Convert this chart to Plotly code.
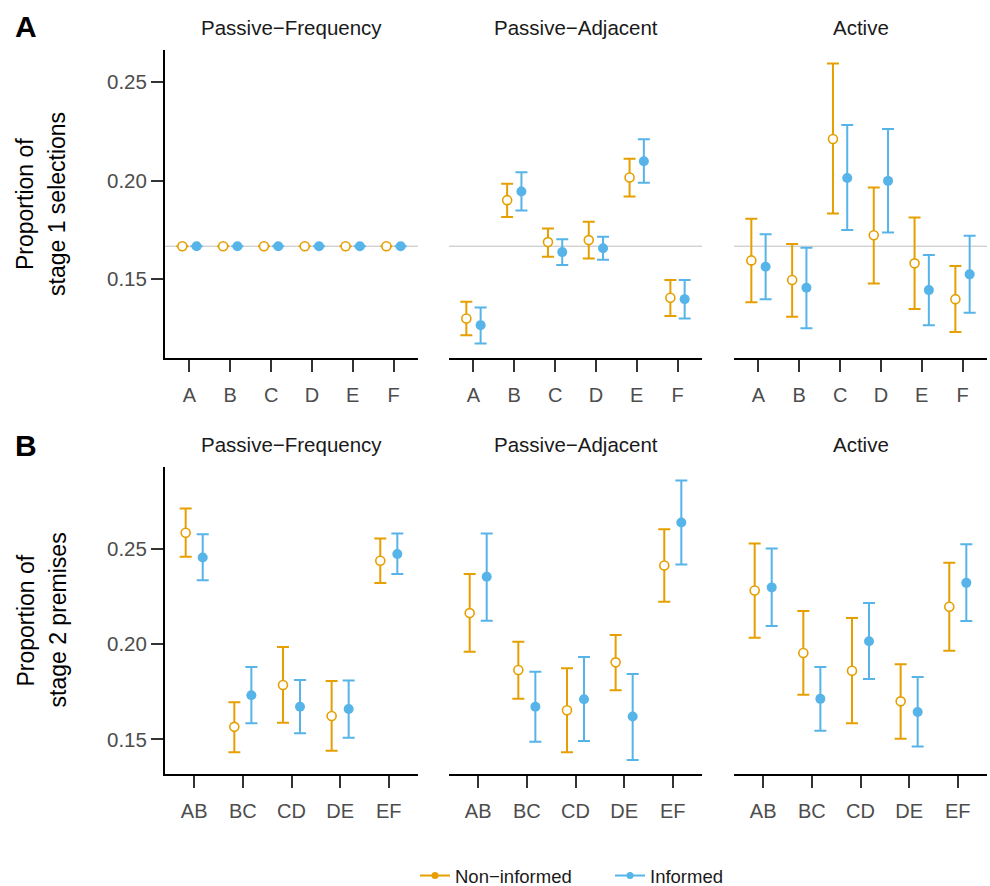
import plotly.graph_objects as go

# ---------------- data ----------------
conditions = ["Passive−Frequency", "Passive−Adjacent", "Active"]
stage1_options = ["A", "B", "C", "D", "E", "F"]
stage2_premises = ["AB", "BC", "CD", "DE", "EF"]
group_names = ["Non−informed", "Informed"]
stage1_chance = 0.1667

# Row A: proportion of stage 1 selections (mean, lower CI, upper CI)
s1_freq_non = [0.1667, 0.1667, 0.1667, 0.1667, 0.1667, 0.1667]
s1_freq_non_lo = [0.1667, 0.1667, 0.1667, 0.1667, 0.1667, 0.1667]
s1_freq_non_hi = [0.1667, 0.1667, 0.1667, 0.1667, 0.1667, 0.1667]
s1_freq_inf = [0.1667, 0.1667, 0.1667, 0.1667, 0.1667, 0.1667]
s1_freq_inf_lo = [0.1667, 0.1667, 0.1667, 0.1667, 0.1667, 0.1667]
s1_freq_inf_hi = [0.1667, 0.1667, 0.1667, 0.1667, 0.1667, 0.1667]

s1_adj_non = [0.1300, 0.1901, 0.1688, 0.1698, 0.2016, 0.1405]
s1_adj_non_lo = [0.1214, 0.1815, 0.1613, 0.1605, 0.1920, 0.1312]
s1_adj_non_hi = [0.1385, 0.1984, 0.1757, 0.1791, 0.2111, 0.1495]
s1_adj_inf = [0.1266, 0.1945, 0.1637, 0.1657, 0.2099, 0.1398]
s1_adj_inf_lo = [0.1173, 0.1849, 0.1571, 0.1598, 0.1989, 0.1300]
s1_adj_inf_hi = [0.1356, 0.2043, 0.1703, 0.1715, 0.2211, 0.1495]

s1_act_non = [0.1595, 0.1495, 0.2212, 0.1723, 0.1580, 0.1398]
s1_act_non_lo = [0.1382, 0.1309, 0.1833, 0.1478, 0.1348, 0.1231]
s1_act_non_hi = [0.1806, 0.1678, 0.2595, 0.1965, 0.1813, 0.1566]
s1_act_inf = [0.1563, 0.1456, 0.2014, 0.1999, 0.1444, 0.1524]
s1_act_inf_lo = [0.1398, 0.1250, 0.1749, 0.1737, 0.1266, 0.1329]
s1_act_inf_hi = [0.1728, 0.1659, 0.2283, 0.2263, 0.1622, 0.1720]

# Row B: proportion of stage 2 premises
s2_freq_non = [0.2586, 0.1566, 0.1786, 0.1623, 0.2439]
s2_freq_non_lo = [0.2460, 0.1433, 0.1587, 0.1440, 0.2322]
s2_freq_non_hi = [0.2714, 0.1695, 0.1986, 0.1807, 0.2556]
s2_freq_inf = [0.2456, 0.1732, 0.1672, 0.1660, 0.2475]
s2_freq_inf_lo = [0.2337, 0.1585, 0.1532, 0.1509, 0.2369]
s2_freq_inf_hi = [0.2579, 0.1881, 0.1812, 0.1809, 0.2582]

s2_adj_non = [0.2164, 0.1865, 0.1653, 0.1905, 0.2414]
s2_adj_non_lo = [0.1961, 0.1714, 0.1433, 0.1758, 0.2223]
s2_adj_non_hi = [0.2369, 0.2013, 0.1874, 0.2049, 0.2605]
s2_adj_inf = [0.2355, 0.1672, 0.1711, 0.1620, 0.2640]
s2_adj_inf_lo = [0.2124, 0.1488, 0.1492, 0.1392, 0.2419]
s2_adj_inf_hi = [0.2582, 0.1856, 0.1933, 0.1844, 0.2861]

s2_act_non = [0.2283, 0.1954, 0.1861, 0.1700, 0.2197]
s2_act_non_lo = [0.2034, 0.1734, 0.1585, 0.1503, 0.1966]
s2_act_non_hi = [0.2530, 0.2175, 0.2138, 0.1895, 0.2428]
s2_act_inf = [0.2299, 0.1713, 0.2016, 0.1644, 0.2323]
s2_act_inf_lo = [0.2096, 0.1545, 0.1818, 0.1462, 0.2122]
s2_act_inf_hi = [0.2504, 0.1881, 0.2217, 0.1828, 0.2526]

y_ticks = [0.15, 0.20, 0.25]
y_tick_labels = ["0.15", "0.20", "0.25"]

# ---------------- styling ----------------
W, H = 990, 886
ORANGE = "#E69F00"
BLUE = "#56B4E9"
FONT = "Liberation Sans, Arial, Helvetica, sans-serif"
DODGE = 0.175

col_px = [(165, 418), (449, 702), (734, 987)]
row_px = [(50, 358), (467, 774)]
row_ranges = [[0.1099, 0.2664], [0.1318, 0.2932]]


def xdom(c):
    return [col_px[c][0] / W, col_px[c][1] / W]


def ydom(r):
    return [1 - row_px[r][1] / H, 1 - row_px[r][0] / H]


rows = [
    (stage1_options, [
        ((s1_freq_non, s1_freq_non_lo, s1_freq_non_hi), (s1_freq_inf, s1_freq_inf_lo, s1_freq_inf_hi)),
        ((s1_adj_non, s1_adj_non_lo, s1_adj_non_hi), (s1_adj_inf, s1_adj_inf_lo, s1_adj_inf_hi)),
        ((s1_act_non, s1_act_non_lo, s1_act_non_hi), (s1_act_inf, s1_act_inf_lo, s1_act_inf_hi)),
    ]),
    (stage2_premises, [
        ((s2_freq_non, s2_freq_non_lo, s2_freq_non_hi), (s2_freq_inf, s2_freq_inf_lo, s2_freq_inf_hi)),
        ((s2_adj_non, s2_adj_non_lo, s2_adj_non_hi), (s2_adj_inf, s2_adj_inf_lo, s2_adj_inf_hi)),
        ((s2_act_non, s2_act_non_lo, s2_act_non_hi), (s2_act_inf, s2_act_inf_lo, s2_act_inf_hi)),
    ]),
]

fig = go.Figure()
layout = dict(
    width=W, height=H, margin=dict(l=0, r=0, t=0, b=0, autoexpand=False),
    paper_bgcolor="white", plot_bgcolor="white",
    font=dict(family=FONT, color="#1A1A1A"),
    showlegend=True,
)
shapes = []
annotations = []

for r, (cats, panels) in enumerate(rows):
    for c, (non, inf) in enumerate(panels):
        idx = r * 3 + c + 1
        xs = "" if idx == 1 else str(idx)
        xa, ya = "x" + xs, "y" + xs
        n = len(cats)
        for (mean, lo, hi), color, off, filled in (
            (non, ORANGE, -DODGE, False), (inf, BLUE, DODGE, True)
        ):
            xpos = [i + 1 + off for i in range(n)]
            fig.add_trace(go.Scatter(
                x=xpos, y=mean, xaxis=xa, yaxis=ya, mode="markers",
                showlegend=False, hoverinfo="skip",
                marker=dict(symbol="circle", size=10 if filled else 9,
                            color=color if filled else "white",
                            line=dict(color=color, width=0 if filled else 1.6)),
                error_y=dict(type="data", symmetric=False,
                             array=[h - m for h, m in zip(hi, mean)],
                             arrayminus=[m - l for m, l in zip(mean, lo)],
                             color=color, thickness=2, width=6),
            ))
        layout["xaxis" + xs] = dict(
            domain=xdom(c), anchor=ya, range=[0.4, n + 0.6],
            tickmode="array", tickvals=list(range(1, n + 1)), ticktext=cats,
            showline=True, linecolor="#000000", linewidth=2,
            ticks="outside", ticklen=12, tickwidth=2, tickcolor="#333333",
            ticklabelstandoff=6,
            tickfont=dict(size=20, color="#4D4D4D", family=FONT),
            showgrid=False, zeroline=False, fixedrange=True,
        )
        yax = dict(domain=ydom(r), anchor=xa, range=row_ranges[r],
                   showgrid=False, zeroline=False, fixedrange=True)
        if c == 0:
            yax.update(showline=True, linecolor="#000000", linewidth=2,
                       ticks="outside", ticklen=12, tickwidth=2, tickcolor="#333333",
                       tickmode="array", tickvals=y_ticks, ticktext=y_tick_labels,
                       tickfont=dict(size=20.5, color="#4D4D4D", family=FONT))
        else:
            yax.update(showline=False, showticklabels=False, ticks="")
        layout["yaxis" + xs] = yax
        if r == 0:
            shapes.append(dict(type="line", xref=xa + " domain", yref=ya,
                               x0=0, x1=1, y0=stage1_chance, y1=stage1_chance,
                               line=dict(color="#BEBEBE", width=1), layer="below"))
        # strip title
        annotations.append(dict(
            text=conditions[c], xref="paper", yref="paper",
            x=(xdom(c)[0] + xdom(c)[1]) / 2, y=1 - (28 if r == 0 else 445) / H,
            xanchor="center", yanchor="middle", showarrow=False,
            font=dict(size=20.5, color="#1A1A1A", family=FONT)))

# y titles & panel letters
ytitles = [("Proportion of", "stage 1 selections"), ("Proportion of", "stage 2 premises")]
for r in range(2):
    yc = 1 - (row_px[r][0] + row_px[r][1]) / 2 / H
    for line, xc in zip(ytitles[r], (25, 57)):
        annotations.append(dict(
            text=line, xref="paper", yref="paper", x=xc / W, y=yc,
            xanchor="center", yanchor="middle", textangle=-90, showarrow=False,
            font=dict(size=23, color="#000000", family=FONT)))
    annotations.append(dict(
        text="<b>" + "AB"[r] + "</b>", xref="paper", yref="paper",
        x=25.5 / W, y=1 - (27 if r == 0 else 446) / H,
        xanchor="center", yanchor="middle", showarrow=False,
        font=dict(size=30, color="#000000", family=FONT)))

# legend entries
for name, color in zip(group_names, (ORANGE, BLUE)):
    fig.add_trace(go.Scatter(
        x=[None], y=[None], mode="lines+markers", name=name,
        line=dict(color=color, width=2), marker=dict(color=color, size=7),
    ))

layout["legend"] = dict(orientation="h", x=415 / W, xanchor="left",
                        y=1 - 876 / H, yanchor="middle",
                        font=dict(size=18.5, color="#1A1A1A", family=FONT),
                        bgcolor="rgba(0,0,0,0)", entrywidth=150)
layout["shapes"] = shapes
layout["annotations"] = annotations
fig.update_layout(**layout)

fig.write_html("out.html")
